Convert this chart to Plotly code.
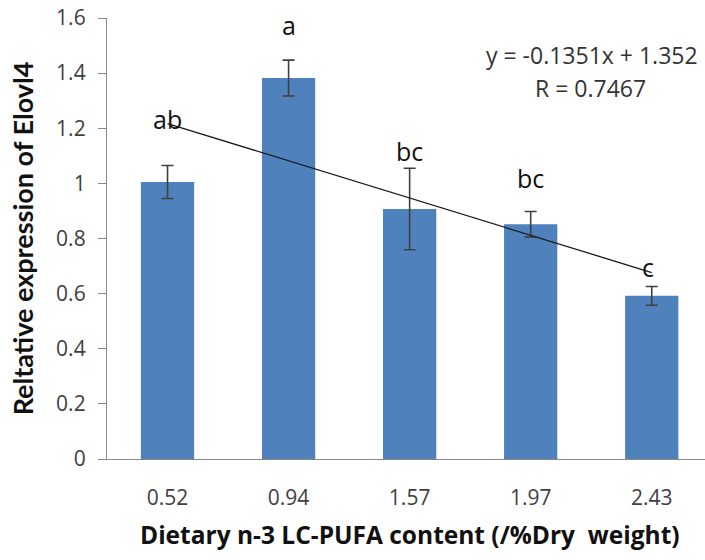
import plotly.graph_objects as go

# Dietary n-3 LC-PUFA levels and Elovl4 expression
categories = ["0.52", "0.94", "1.57", "1.97", "2.43"]
expression = [1.005, 1.382, 0.907, 0.852, 0.592]
error = [0.060, 0.065, 0.148, 0.046, 0.034]
letters = ["ab", "a", "bc", "bc", "c"]
letter_y = [1.235, 1.573, 1.119, 1.018, 0.698]
letter_dx = [0, 0, 0, 0, -0.03]
slope, intercept = -0.1351, 1.352
r_value = 0.7467

FONT = "Open Sans"
idx = list(range(len(categories)))
trend = [slope * (i + 1) + intercept for i in idx]

fig = go.Figure()
fig.add_trace(go.Bar(
    x=idx, y=expression, width=0.44,
    marker=dict(color="#4F81BD", line=dict(width=0)),
    error_y=dict(type="data", array=error, visible=True,
                 color="#404040", thickness=1.6, width=6),
    showlegend=False,
))
fig.add_trace(go.Scatter(
    x=[idx[0], idx[-1]], y=[trend[0], trend[-1]], mode="lines",
    line=dict(color="#1a1a1a", width=1.3), showlegend=False,
))

for i, (lab, ly, dx) in enumerate(zip(letters, letter_y, letter_dx)):
    fig.add_annotation(x=i + dx, y=ly, text=lab, showarrow=False,
                       font=dict(family=FONT, size=25, color="#111"))

# trendline equation
fig.add_annotation(x=0.811, y=0.916, xref="paper", yref="paper",
                   xanchor="center", yanchor="middle",
                   text=f"y = {slope}x + {intercept}", showarrow=False,
                   font=dict(family=FONT, size=23, color="#333"))
fig.add_annotation(x=0.809, y=0.841, xref="paper", yref="paper",
                   xanchor="center", yanchor="middle",
                   text=f"R = {r_value}", showarrow=False,
                   font=dict(family=FONT, size=23, color="#333"))

# x-axis title
fig.add_annotation(x=0.506, y=-0.172, xref="paper", yref="paper",
                   text="<b>Dietary n-3 LC-PUFA content (/%Dry  weight)</b>",
                   showarrow=False, xanchor="center", yanchor="middle",
                   font=dict(family=FONT, size=24.5, color="#111"))

fig.update_layout(
    width=705, height=560,
    margin=dict(l=107, r=0, t=18, b=101),
    plot_bgcolor="white", paper_bgcolor="white",
    font=dict(family=FONT),
)
fig.update_xaxes(
    range=[-0.5, 4.44], tickvals=idx, ticktext=categories,
    showline=True, linecolor="#888", linewidth=1.3,
    ticks="", ticklabelstandoff=20, showgrid=False, zeroline=False,
    tickfont=dict(family=FONT, size=21, color="#404040"),
)
fig.update_yaxes(
    range=[0, 1.6], tickvals=[0, 0.2, 0.4, 0.6, 0.8, 1.0, 1.2, 1.4, 1.6],
    ticktext=["0", "0.2", "0.4", "0.6", "0.8", "1", "1.2", "1.4", "1.6"],
    showline=True, linecolor="#888", linewidth=1.3,
    ticks="outside", ticklen=8, tickcolor="#888", ticklabelstandoff=8,
    showgrid=False, zeroline=False,
    tickfont=dict(family=FONT, size=21, color="#404040"),
    title=dict(text="<b>Reltative expression of Elovl4</b>",
               font=dict(family="Lato", size=27, color="#111"), standoff=14),
)

fig.write_html("out.html")
